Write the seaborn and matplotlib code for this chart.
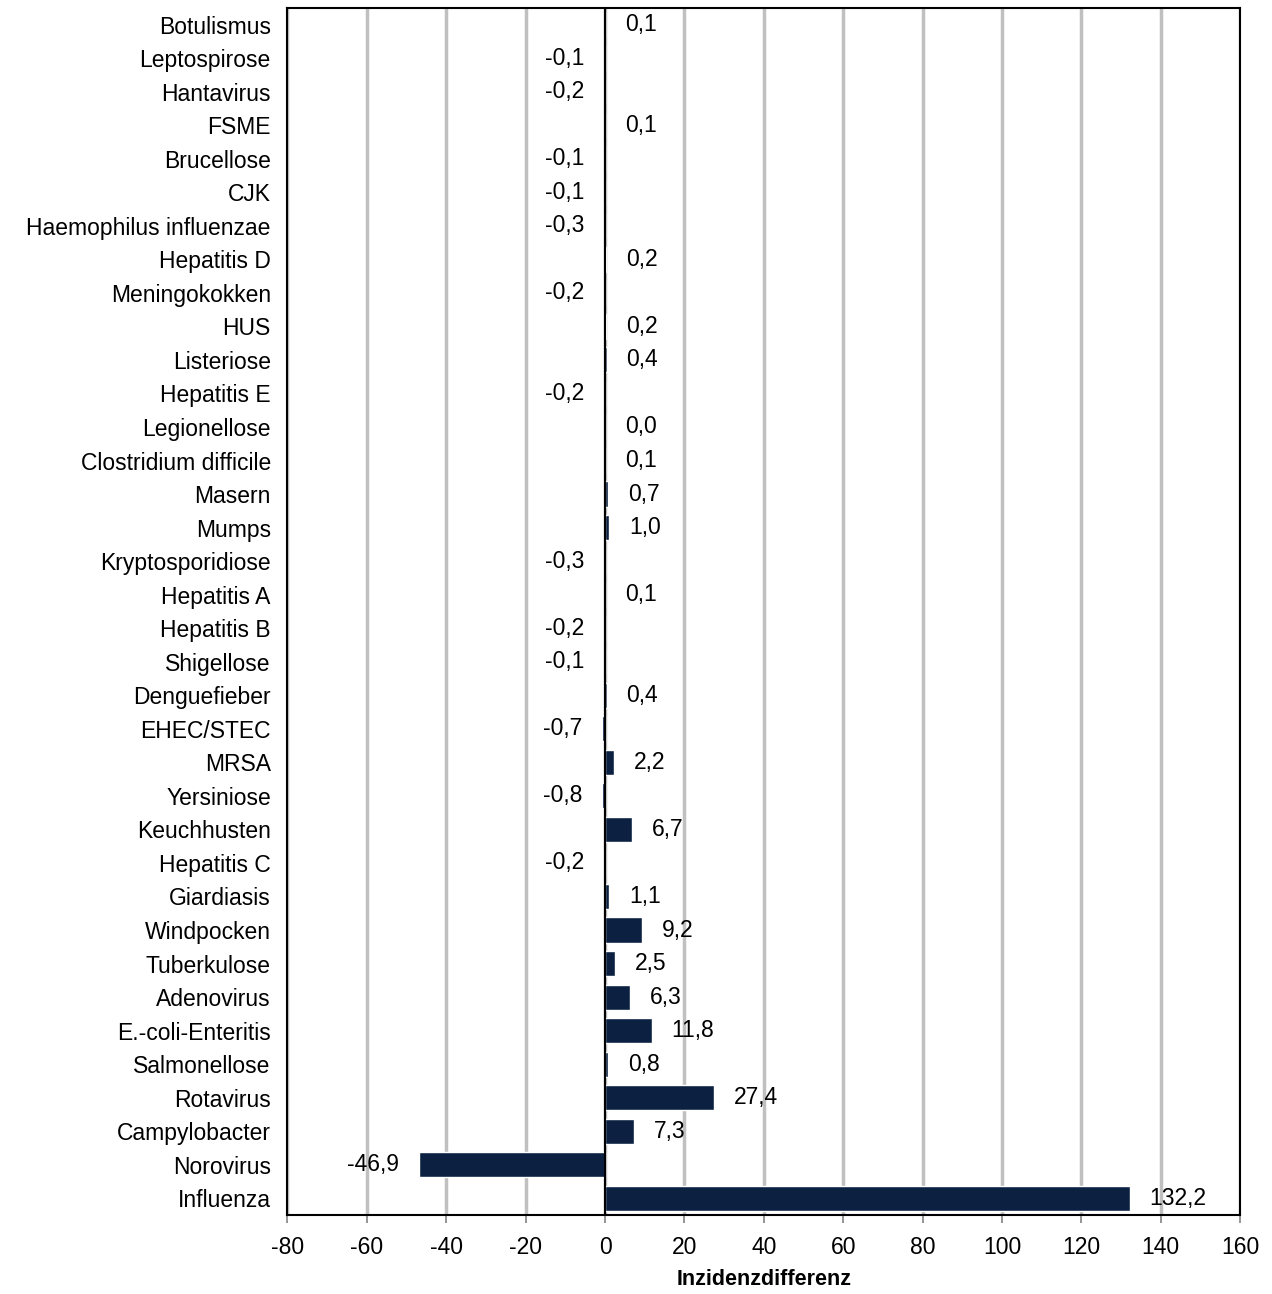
import matplotlib
matplotlib.use("Agg")
import matplotlib.pyplot as plt
import seaborn as sns
import pandas as pd

diseases = ["Botulismus", "Leptospirose", "Hantavirus", "FSME", "Brucellose", "CJK",
            "Haemophilus influenzae", "Hepatitis D", "Meningokokken", "HUS", "Listeriose",
            "Hepatitis E", "Legionellose", "Clostridium difficile", "Masern", "Mumps",
            "Kryptosporidiose", "Hepatitis A", "Hepatitis B", "Shigellose", "Denguefieber",
            "EHEC/STEC", "MRSA", "Yersiniose", "Keuchhusten", "Hepatitis C", "Giardiasis",
            "Windpocken", "Tuberkulose", "Adenovirus", "E.-coli-Enteritis", "Salmonellose",
            "Rotavirus", "Campylobacter", "Norovirus", "Influenza"]
values = [0.1, -0.1, -0.2, 0.1, -0.1, -0.1, -0.3, 0.2, -0.2, 0.2, 0.4, -0.2, 0.0, 0.1,
          0.7, 1.0, -0.3, 0.1, -0.2, -0.1, 0.4, -0.7, 2.2, -0.8, 6.7, -0.2, 1.1, 9.2,
          2.5, 6.3, 11.8, 0.8, 27.4, 7.3, -46.9, 132.2]

df = pd.DataFrame({"Krankheit": diseases, "Wert": values})

sns.set_theme(style="white")
plt.rcParams["font.family"] = ["Liberation Sans", "DejaVu Sans"]
plt.rcParams["axes.unicode_minus"] = False
plt.rcParams["text.color"] = "black"
plt.rcParams["xtick.color"] = "black"
plt.rcParams["ytick.color"] = "black"
plt.rcParams["axes.labelcolor"] = "black"

fig, ax = plt.subplots(figsize=(12.72, 12.94), dpi=100)
fig.subplots_adjust(left=0.226, right=0.975, top=0.994, bottom=0.061)

sns.barplot(data=df, x="Wert", y="Krankheit", color="#0c2142", saturation=1,
            width=0.75, orient="h", ax=ax)

ax.set_xlim(-80, 160)
ax.set_xticks(range(-80, 161, 20))
ax.xaxis.grid(True, color="#c0c0c0", linewidth=2.5)
ax.set_axisbelow(True)
ax.axvline(0, color="black", linewidth=1.5)
for s in ax.spines.values():
    s.set_color("black")
    s.set_linewidth(1.5)
ax.tick_params(axis="x", labelsize=16.5, bottom=True, length=6, color="#888888", pad=9)
ax.tick_params(axis="y", labelsize=16.5, left=False, pad=6)
ax.set_ylabel("")
ax.set_xlabel("Inzidenzdifferenz", fontsize=15.5, fontweight="bold", labelpad=7)

for i, v in enumerate(values):
    txt = f"{v:.1f}".replace(".", ",")
    if v >= 0:
        ax.text(v + 5, i, txt, va="center", ha="left", fontsize=16.5)
    else:
        ax.text(v - 5, i, txt, va="center", ha="right", fontsize=16.5)

fig.savefig("out.png", dpi=100)
